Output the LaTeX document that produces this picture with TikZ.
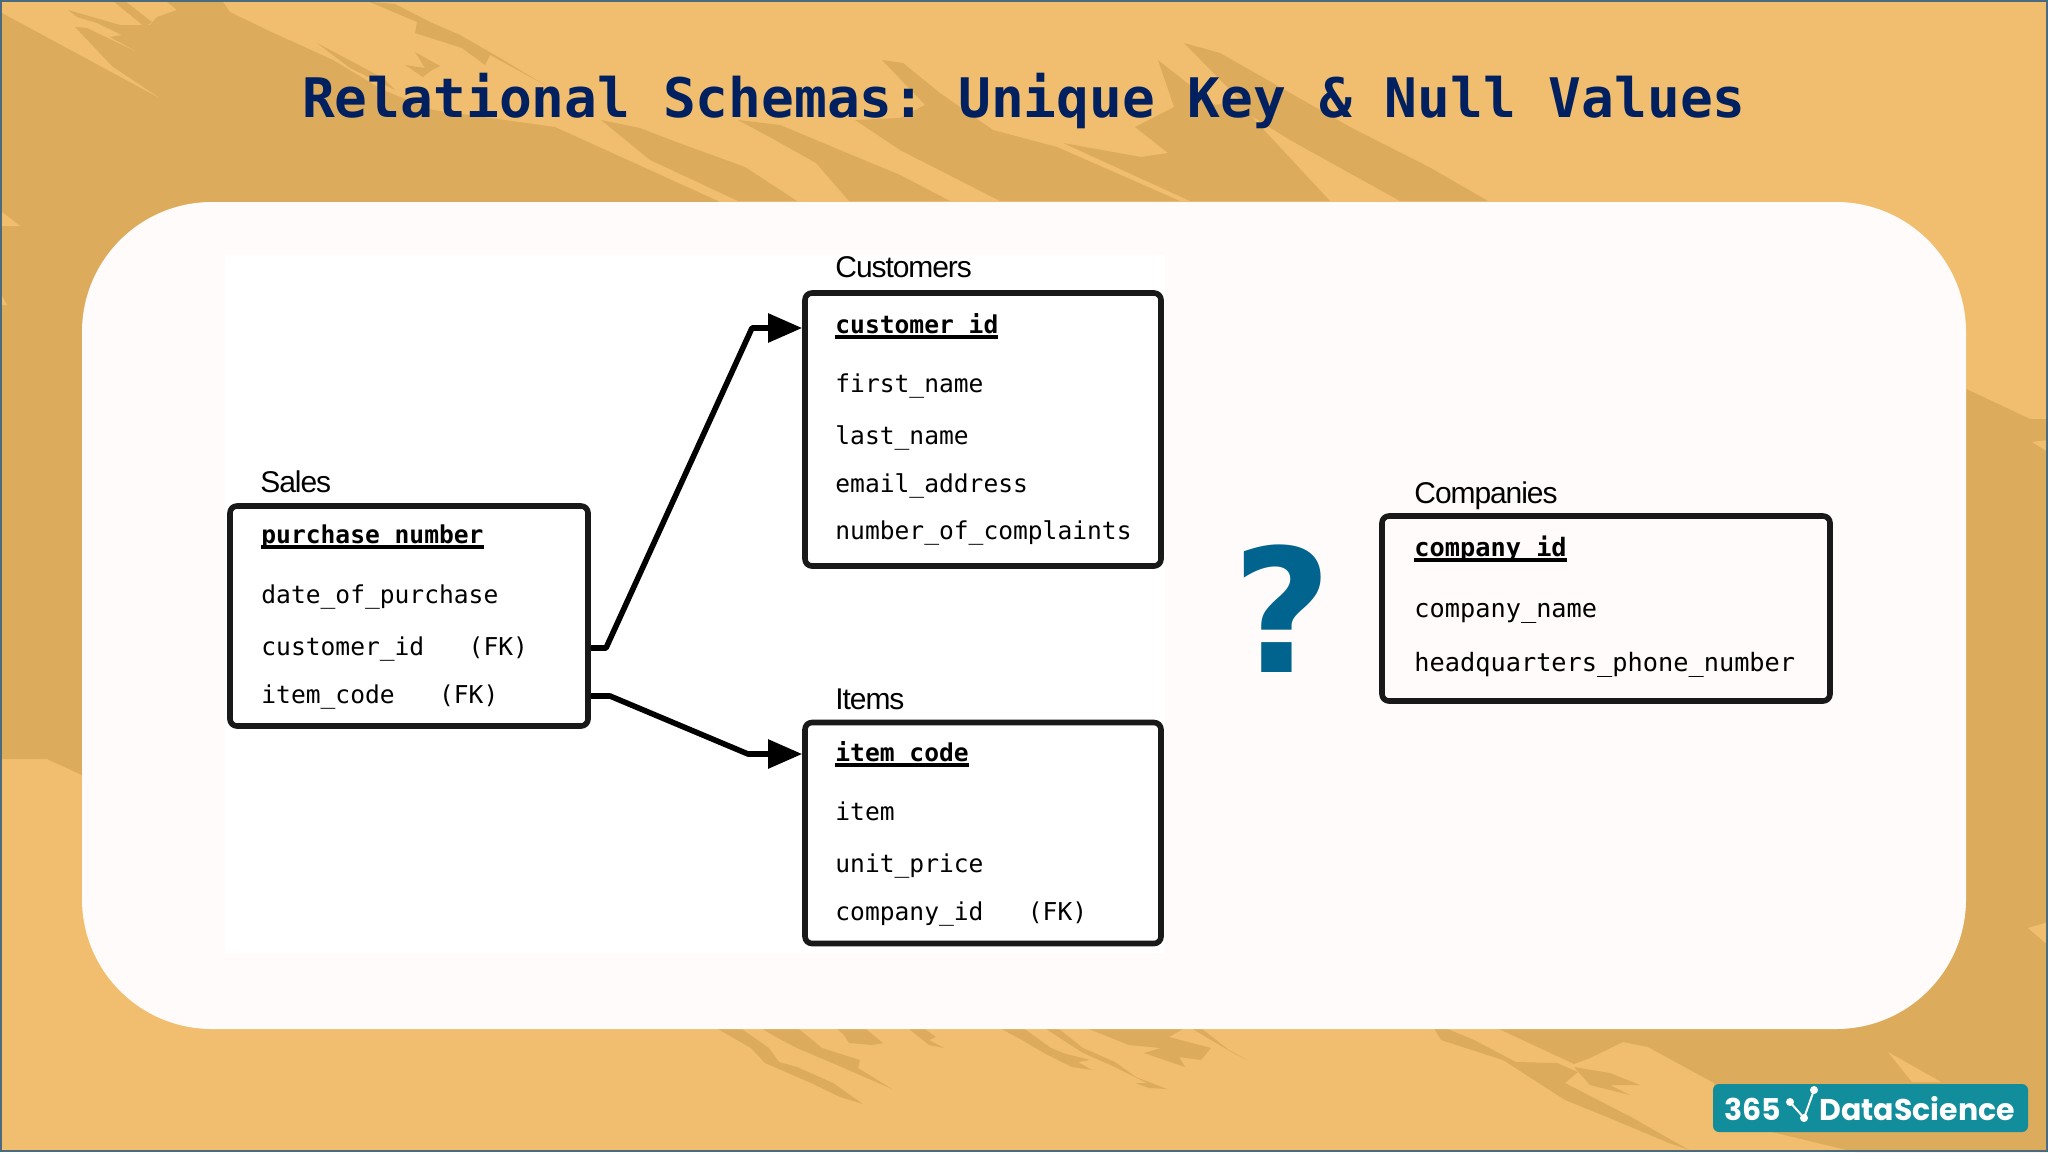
\documentclass[tikz,border=0pt]{standalone}
\usepackage{fontspec}
\usetikzlibrary{arrows.meta}
\frenchspacing
\newfontfamily\titlefont{DejaVu Sans Mono}
\newfontfamily\fieldfont{DejaVu Sans Mono}
\newfontfamily\tablefont[LetterSpace=-3.6]{Liberation Sans}
\newfontfamily\markfont{DejaVu Sans}
\newfontfamily\logofont{Poppins}
\definecolor{brushlight}{HTML}{F0BE6E}
\definecolor{brushdark}{HTML}{DDAB5C}
\definecolor{panelcol}{HTML}{FFFBFA}
\definecolor{titlecol}{HTML}{002060}
\definecolor{markcol}{HTML}{00648F}
\definecolor{logocol}{HTML}{128D9B}
\definecolor{edgecol}{HTML}{4A6A80}
\newcommand{\keytext}[1]{\setbox0=\hbox{\bfseries #1}\rlap{\rule[-3.15pt]{\wd0}{2pt}}\box0}
\begin{document}
\begin{tikzpicture}[x=0.5pt,y=-0.5pt]
\tikzstyle{every node}+=[inner sep=0pt]
\tikzstyle{tablebox}=[draw=black!90,line width=2.8pt,rounded corners=3.5pt]
\tikzstyle{tablename}=[anchor=base west,font=\tablefont\fontsize{15}{17}\selectfont]
\tikzstyle{field}=[anchor=base west,font=\fieldfont\fontsize{12.3}{14}\selectfont]
\tikzstyle{widefield}=[anchor=base west,font=\fieldfont\fontsize{12.65}{14}\selectfont]
\tikzstyle{fklink}=[draw=black,line width=2.8pt,line join=round,-{Triangle[length=17pt,width=14pt]}]
\tikzstyle{brush}=[fill=brushdark,draw=none]
\useasboundingbox (0,0) rectangle (2048,1152);
\fill [brushlight] (0,0) rectangle (2048,1152);
\fill [brush] (0,12) -- (163,100) -- (113,67) -- (75,27) -- (87,28) -- (143,55) -- (110,37) -- (122,35) -- (97,23) -- (77,17) -- (68,10) -- (120,25) -- (150,25) -- (157,17) -- (177,10) -- (167,2) -- (223,2) -- (230,12) -- (267,30) -- (333,60) -- (383,90) -- (433,110) -- (555,127) -- (718,201) -- (718,340) -- (82,340) -- (82,775) -- (47,759) -- (0,759) -- cycle;
\fill [brush] (113,1) -- (125,1) -- (152,22) -- (145,27) -- cycle;
\fill [brush] (317,43) -- (383,78) -- (395,90) -- (350,68) -- cycle;
\fill [brush] (370,2) -- (395,4) -- (430,22) -- (460,35) -- (500,58) -- (545,85) -- (490,55) -- (485,65) -- (462,48) -- (415,33) -- (417,22) -- cycle;
\fill [brush] (405,65) -- (425,68) -- (415,52) -- (440,66) -- (432,70) -- (423,77) -- cycle;
\fill [brush] (601,120) -- (640,128) -- (679,143) -- (745,167) -- (797,201) -- (738,201) -- (650,160) -- cycle;
\fill [brush] (738,120) -- (780,125) -- (840,150) -- (900,175) -- (950,201) -- (849,201) -- (816,163) -- (775,140) -- cycle;
\fill [brush] (882,60) -- (903,63) -- (940,93) -- (993,130) -- (1057,147) -- (1180,201) -- (1000,201) -- (900,150) -- (855,120) -- (900,118) -- (925,105) -- cycle;
\fill [brush] (1184,43) -- (1220,53) -- (1350,127) -- (1429,167) -- (1488,201) -- (1400,201) -- (1290,140) -- (1250,115) -- (1330,201) -- (1190,201) -- (1063,143) -- (1141,157) -- (1168,153) -- (1135,127) -- (1174,107) -- (1158,60) -- (1215,105) -- (1240,100) -- cycle;
\fill [brushlight] (2,212) -- (20,226) -- (2,226) -- cycle;
\fill [brushlight] (2,296) -- (7,305) -- (2,305) -- cycle;
\fill [brush] (1499,1029) -- (1574,1064) -- (1590,1058) -- (1623,1042) -- (1648,1047) -- (1714,1083) -- (1714,1120) -- (1772,1132) -- (1855,1152) -- (2048,1152) -- (2048,419) -- (2030,419) -- (1960,386) -- (1800,386) -- (1800,1000) -- cycle;
\fill [brushlight] (1888,1052) -- (1941,1082) -- (1912,1082) -- cycle;
\fill [brushlight] (2028,928) -- (2048,922) -- (2048,945) -- cycle;
\fill [brushlight] (2032,442) -- (2048,440) -- (2048,452) -- cycle;
\fill [brush] (1429,1020) -- (1450,1030) -- (1474,1040) -- (1516,1062) -- (1557,1063) -- (1578,1072) -- (1565,1083) -- (1631,1117) -- (1689,1150) -- (1669,1143) -- (1607,1117) -- (1565,1100) -- (1503,1060) -- (1441,1040) -- cycle;
\fill [brush] (1574,1067) -- (1610,1073) -- (1640,1085) -- (1610,1085) -- (1630,1095) -- (1590,1085) -- cycle;
\fill [brush] (711,1025) -- (736,1025) -- (769,1048) -- (779,1062) -- (797,1067) -- (833,1083) -- (863,1104) -- (840,1097) -- (811,1083) -- (765,1063) -- (751,1048) -- cycle;
\fill [brush] (756,1025) -- (794,1025) -- (822,1048) -- (860,1060) -- (858,1068) -- (892,1089) -- (844,1068) -- (797,1048) -- (776,1037) -- cycle;
\fill [brush] (833,1025) -- (861,1025) -- (883,1043) -- (872,1045) -- (849,1043) -- (844,1035) -- cycle;
\fill [brush] (904,1025) -- (919,1025) -- (936,1037) -- (929,1040) -- (944,1048) -- (929,1045) -- cycle;
\fill [brush] (994,1025) -- (1019,1025) -- (1051,1048) -- (1063,1053) -- (1090,1060) -- (1078,1062) -- (1092,1070) -- (1072,1067) -- (1044,1053) -- (1022,1040) -- cycle;
\fill [brush] (1040,1025) -- (1054,1025) -- (1083,1048) -- (1115,1062) -- (1136,1077) -- (1167,1089) -- (1149,1088) -- (1135,1083) -- (1147,1083) -- (1115,1067) -- (1083,1053) -- cycle;
\fill [brush] (1079,1025) -- (1190,1025) -- (1169,1037) -- (1211,1048) -- (1201,1060) -- (1179,1057) -- (1185,1067) -- (1144,1053) -- (1161,1048) -- (1129,1045) -- cycle;
\fill [brush] (1186,1025) -- (1197,1025) -- (1229,1050) -- (1247,1060) -- (1233,1053) -- cycle;
\fill [panelcol,rounded corners=65pt] (82,202) rectangle (1966,1029);
\fill [white] (225,255) rectangle (1165,953);
\node [tablebox,minimum width=179pt,minimum height=110pt] (salesBox) at (409,616) {};
\node [tablebox,minimum width=178pt,minimum height=136.5pt] (custBox) at (983,429.5) {};
\node [tablebox,minimum width=178pt,minimum height=110.5pt] (itemsBox) at (983,833) {};
\node [tablebox,minimum width=224pt,minimum height=92.5pt] (compBox) at (1606,608.5) {};
\node [tablename] (salesName) at (260,492) {Sales};
\node [tablename] (custName) at (835,277) {Customers};
\node [tablename] (itemsName) at (835,709) {Items};
\node [tablename] (compName) at (1414,503) {Companies};
\node [field] (salesKey) at (261,543) {\keytext{purchase\_number}};
\node [field] (salesDate) at (261,603) {date\_of\_purchase};
\node [field] (salesCust) at (261,655) {customer\_id\ \ \ (FK)};
\node [field] (salesItem) at (261,703) {item\_code\ \ \ (FK)};
\node [field] (custKey) at (835,333) {\keytext{customer\_id}};
\node [field] (custFirst) at (835,392) {first\_name};
\node [field] (custLast) at (835,444) {last\_name};
\node [field] (custMail) at (835,492) {email\_address};
\node [field] (custCompl) at (835,539) {number\_of\_complaints};
\node [field] (itemsKey) at (835,761) {\keytext{item\_code}};
\node [field] (itemsItem) at (835,820) {item};
\node [field] (itemsPrice) at (835,872) {unit\_price};
\node [field] (itemsComp) at (835,920) {company\_id\ \ \ (FK)};
\node [widefield] (compKey) at (1414,556) {\keytext{company\_id}};
\node [widefield] (compNm) at (1414,617) {company\_name};
\node [widefield] (compPhone) at (1414,671) {headquarters\_phone\_number};
\coordinate (kneeA) at (606,648);
\coordinate (kneeB) at (752,328);
\coordinate (kneeC) at (610,696);
\coordinate (kneeD) at (748,754);
\draw [fklink] (salesBox.east |- kneeA) -- (kneeA) -- (kneeB) -- (custBox.west |- kneeB);
\draw [fklink] (salesBox.east |- kneeC) -- (kneeC) -- (kneeD) -- (itemsBox.west |- kneeD);
\node [anchor=base,font=\markfont\bfseries\fontsize{86}{90}\selectfont,text=markcol] (mark) at (1282,672) {?};
\node [anchor=base,font=\titlefont\bfseries\fontsize{27.25}{30}\selectfont,text=titlecol] (title) at (1024,117) {Relational Schemas: Unique Key \& Null Values};
\fill [logocol,rounded corners=3pt] (1713,1084) rectangle (2028,1132);
\node [anchor=base west,font=\logofont\bfseries\fontsize{15}{18}\selectfont,text=white] (logoNum) at (1724,1120) {365};
\node [anchor=base west,font=\logofont\bfseries\fontsize{15}{18}\selectfont,text=white] (logoName) at (1819,1120) {DataScience};
\draw [white,line width=1pt] (1790,1102) -- (1804,1118) -- (1814,1090);
\fill [white] (1790,1102) circle (4) (1804,1118) circle (4) (1814,1090) circle (4);
\draw [edgecol,line width=1pt] (1,1) rectangle (2047,1151);
\end{tikzpicture}
\end{document}
